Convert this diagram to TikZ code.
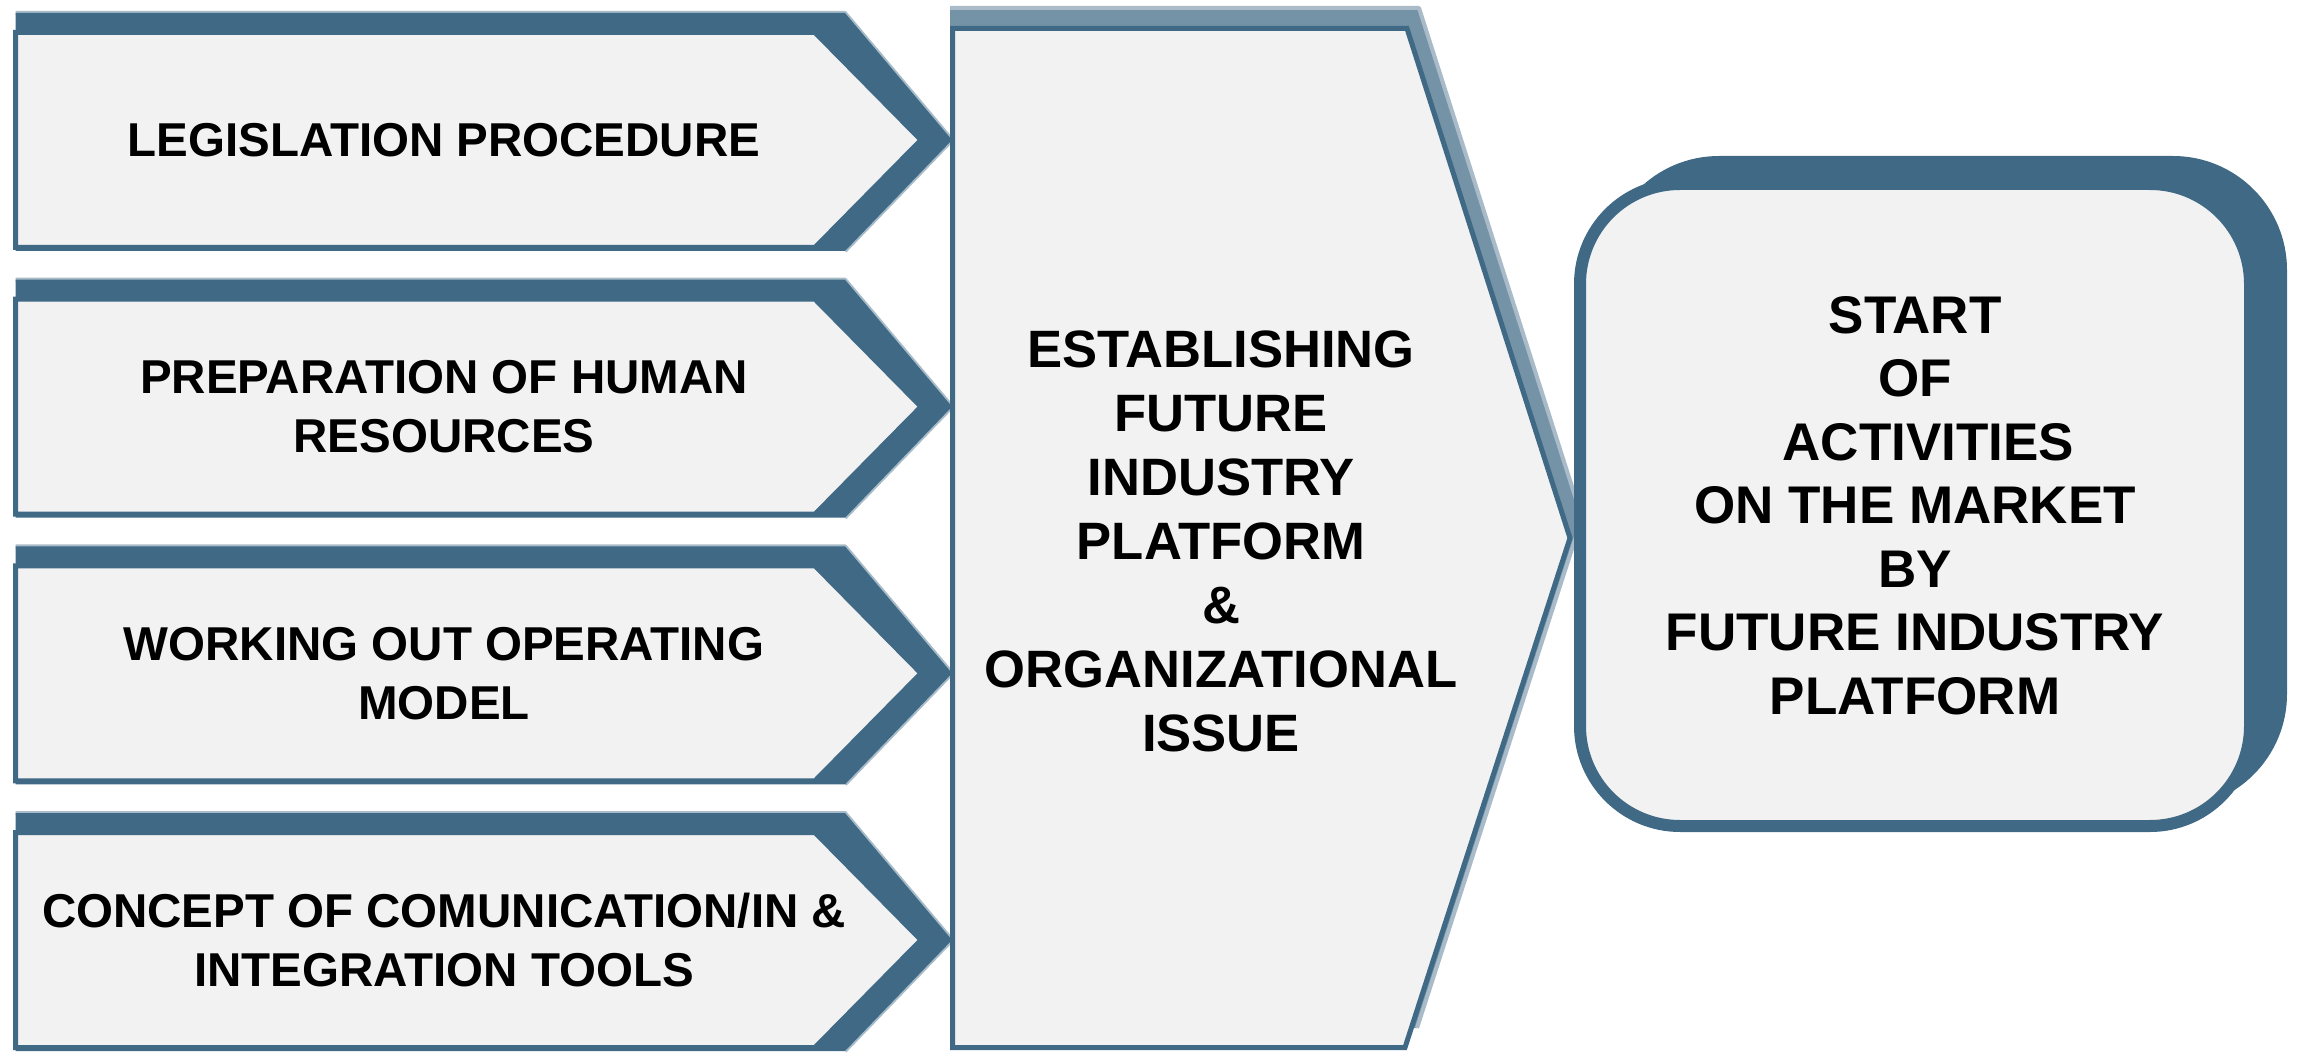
\documentclass[tikz,border=0pt]{standalone}
\usepackage{fontspec}
\setmainfont{Liberation Sans}
\definecolor{sb}{RGB}{63,105,132}
\definecolor{lg}{RGB}{242,242,242}
\begin{document}
\begin{tikzpicture}[x=0.5pt,y=-0.5pt,
  lbox/.style={fill=lg, draw=sb, line width=2.5pt, line join=miter},
  lshadow/.style={fill=sb},
  softedge/.style={draw=sb, line width=2pt, opacity=0.45, line join=round},
  ltext/.style={inner sep=0pt, align=center, font=\bfseries\fontsize{23.75pt}{29.5pt}\selectfont},
  btext/.style={inner sep=0pt, align=center, font=\bfseries\fontsize{26.3pt}{32pt}\selectfont}]
\useasboundingbox (0,0) rectangle (2297,1053);
% left arrow boxes
\foreach \c in {140,406.7,673.3,940}{
  \fill[lshadow] (15.5,{\c-127}) -- (845,{\c-127}) -- (952,\c) -- (845,{\c+111}) -- (15.5,{\c+111}) -- cycle;
  \draw[softedge] (15.5,{\c-127}) -- (845,{\c-127}) -- (952,\c) -- (845,{\c+111});
  \draw[lbox] (15.5,{\c-107.5}) -- (815,{\c-107.5}) -- (921,\c) -- (815,{\c+107.5}) -- (15.5,{\c+107.5}) -- cycle;
}
\node[ltext] (t1) at (444,140) {LEGISLATION PROCEDURE};
\node[ltext] (t2) at (444,406.7) {PREPARATION OF HUMAN\\RESOURCES};
\node[ltext] (t3) at (444,673.3) {WORKING OUT OPERATING\\MODEL};
\node[ltext] (t4) at (444,940) {CONCEPT OF COMUNICATION/IN \&\\INTEGRATION TOOLS};
% middle pentagon
\fill[sb!72] (950,8) -- (1419,8) -- (1582,518) -- (1417,1028) -- (950,1028) -- cycle;
\draw[sb!45, line width=2pt, line join=round] (950,8) -- (1419,8) -- (1582,518) -- (1417,1028);
\draw[lbox] (952.5,28.5) -- (1407,28.5) -- (1570,538) -- (1405,1047.5) -- (952.5,1047.5) -- cycle;
\node[btext] (mid) at (1221,541) {ESTABLISHING\\FUTURE\\INDUSTRY\\PLATFORM\\\&\\ORGANIZATIONAL\\ISSUE};
% right rounded box
\fill[sb, rounded corners=57pt] (1605,156) rectangle (2287,808);
\draw[fill=lg, draw=sb, line width=6pt, rounded corners=50pt] (1580,184) rectangle (2250,826);
\node[btext, font=\bfseries\fontsize{26.5pt}{31.75pt}\selectfont] (start) at (1915,505.5) {START\\OF\\\hspace*{0.5em}ACTIVITIES\\ON THE MARKET\\BY\\FUTURE INDUSTRY\\PLATFORM};
\end{tikzpicture}
\end{document}
